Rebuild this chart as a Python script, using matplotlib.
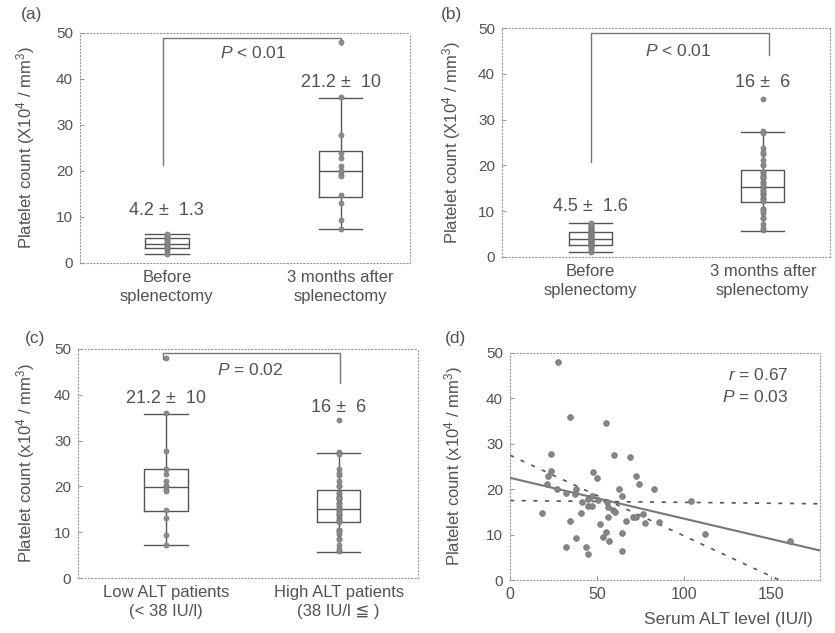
import matplotlib
matplotlib.use("Agg")
import matplotlib.pyplot as plt
import numpy as np

plt.rcParams["font.family"] = ["Liberation Sans", "DejaVu Sans"]
plt.rcParams["mathtext.fontset"] = "custom"
plt.rcParams["mathtext.rm"] = "Liberation Sans"
plt.rcParams["mathtext.it"] = "Liberation Sans:italic"

GREY = "#525252"
PT = "#8a8a8a"

# ---- data ----
# panel (d): serum ALT (IU/l) vs platelet count 3 months after splenectomy
alt_level = [27.8, 34.5, 55, 23.4, 60, 69, 23.4, 22, 47.7, 50, 72.2, 73.8, 21,
             82.4, 62.8, 37.8, 27, 32, 37.4, 64.2, 47.3, 45, 50.4, 41.2, 45,
             47.3, 55.6, 56.5, 59.4, 60.3, 18.2, 40.8, 56.1, 66.5, 70.5, 72.4,
             76.6, 77.6, 85.6, 34.5, 51.9, 55, 64.2, 37.8, 53.3, 56.9, 32,
             43.7, 44.6, 64.2, 104, 112, 160.5]
platelet_3m = [48.0, 36.0, 34.6, 27.8, 27.5, 27.0, 23.9, 22.8, 23.7, 22.5, 22.9,
               21.1, 21.1, 20.1, 20.1, 20.0, 20.0, 19.2, 18.9, 18.6, 18.5, 17.8,
               17.6, 17.2, 16.4, 16.3, 17.2, 16.0, 15.4, 15.0, 14.8, 14.7, 13.8,
               13.0, 13.8, 13.9, 14.5, 12.6, 12.7, 13.1, 12.3, 10.5, 10.4, 9.3,
               9.5, 8.5, 7.3, 7.3, 5.8, 6.4, 17.4, 10.1, 8.5]
alt_cut = 38

# regression line and the two dashed lines (intercept, slope)
fit_line = (22.5, -0.0899)
band_lines = [(27.5, -0.178), (17.5, -0.004)]

# before splenectomy platelet counts
before_a = [2.0, 2.6, 3.0, 3.2, 3.5, 3.8, 4.1, 4.3, 4.6, 5.0, 5.3, 5.6, 5.9, 6.2]
before_b = [1.1, 1.5, 1.8, 2.1, 2.3, 2.5, 2.7, 2.8, 3.0, 3.1, 3.3, 3.4, 3.5,
            3.6, 3.8, 3.9, 4.0, 4.0, 4.1, 4.3, 4.4, 4.5, 4.6, 4.8, 4.9, 5.1,
            5.2, 5.4, 5.5, 5.6, 5.8, 6.0, 6.2, 6.4, 6.6, 6.8, 7.0, 7.2, 7.4]

# box statistics: whislo, q1, med, q3, whishi
box_a = [(2.0, 3.2, 4.2, 5.4, 6.2), (7.3, 14.4, 19.9, 24.4, 35.8)]
box_b = [(1.1, 2.7, 4.0, 5.5, 7.4), (5.7, 12.1, 15.2, 18.9, 27.3)]
box_c = [(7.1, 14.6, 19.9, 23.7, 35.7), (5.6, 12.2, 15.1, 19.3, 27.3)]

labels_ab = ["Before\nsplenectomy", "3 months after\nsplenectomy"]
labels_c = ["Low ALT patients\n(< 38 IU/l)", "High ALT patients\n(38 IU/l \u2266 )"]
means_a = ["4.2 \u00b1  1.3", "21.2 \u00b1  10"]
means_b = ["4.5 \u00b1  1.6", "16 \u00b1  6"]
means_c = ["21.2 \u00b1  10", "16 \u00b1  6"]

alt_level = np.array(alt_level)
platelet_3m = np.array(platelet_3m)
low_alt = platelet_3m[alt_level < alt_cut]
high_alt = platelet_3m[alt_level >= alt_cut]


def px_axes(fig, l, t, r, b):
    W, H = 835, 633
    return fig.add_axes([l / W, 1 - b / H, (r - l) / W, (b - t) / H])


def style(ax, ylab):
    for s in ax.spines.values():
        s.set_linestyle((0, (1, 2)))
        s.set_color("#9a9a9a")
        s.set_linewidth(0.8)
    ax.set_ylim(0, 50)
    ax.set_yticks([0, 10, 20, 30, 40, 50])
    ax.tick_params(axis="y", direction="in", length=3, color="#999999",
                   labelsize=11, labelcolor=GREY, pad=5)
    ax.set_ylabel(ylab, fontsize=12, color=GREY)


def box_panel(ax, boxes, strips, xlabels, means, mean_y, xlim, ylab):
    stats = []
    for lo, q1, med, q3, hi in boxes:
        stats.append(dict(whislo=lo, q1=q1, med=med, q3=q3, whishi=hi, fliers=[]))
    lp = dict(color="#555555", linewidth=1.0)
    ax.bxp(stats, positions=[1, 2], widths=0.25, capwidths=0.25,
           boxprops=lp, whiskerprops=lp, capprops=lp, medianprops=lp,
           showfliers=False, manage_ticks=False)
    for i, vals in enumerate(strips):
        ax.scatter(np.full(len(vals), i + 1), vals, s=14, color=PT,
                   edgecolor="#777777", linewidth=0.4, zorder=3)
    for i, (txt, y) in enumerate(zip(means, mean_y)):
        ax.text(i + 1, y, txt, ha="center", va="center", fontsize=13, color=GREY)
    ax.set_xlim(*xlim)
    ax.set_xticks([1, 2])
    ax.set_xticklabels(xlabels, fontsize=12, color=GREY, linespacing=1.35)
    ax.tick_params(axis="x", length=0, pad=5)
    style(ax, ylab)


def bracket(ax, x0, y0, x1, y1, ytop, txt, tx, ty):
    ax.plot([x0, x0, x1, x1], [y0, ytop, ytop, y1], color="#777777", lw=1.0)
    ax.text(tx, ty, txt, ha="center", va="center", fontsize=12.5, color=GREY)


fig = plt.figure(figsize=(8.35, 6.33), dpi=100)

ylab_X = "Platelet count (X10$^4$ / mm$^3$)"
ylab_x = "Platelet count (x10$^4$ / mm$^3$)"

# (a)
ax = px_axes(fig, 80, 33, 410, 263)
box_panel(ax, box_a, [before_a, low_alt], labels_ab, means_a, [11.4, 39.2],
          (0.5, 2.4), ylab_X)
bracket(ax, 0.98, 21.3, 2.005, 47.4, 48.9, "$P$ < 0.01", 1.5, 45.6)
ax.yaxis.set_label_coords(-0.13, 0.5)

# (b)
ax = px_axes(fig, 502, 28, 830, 257)
box_panel(ax, box_b, [before_b, high_alt], labels_ab, means_b, [11.0, 38.0],
          (0.485, 2.39), ylab_X)
bracket(ax, 1.0, 20.7, 2.035, 44.0, 48.9, "$P$ < 0.01", 1.506, 44.9)
ax.yaxis.set_label_coords(-0.12, 0.5)

# (c)
ax = px_axes(fig, 78, 349, 418, 578)
box_panel(ax, box_c, [low_alt, high_alt], labels_c, means_c, [39.1, 37.2],
          (0.49, 2.46), ylab_x)
bracket(ax, 0.98, 47.8, 2.007, 42.6, 49.1, "$P$ = 0.02", 1.49, 45.5)
ax.yaxis.set_label_coords(-0.12, 0.5)

# (d)
ax = px_axes(fig, 510, 353, 820, 580)
ax.scatter(alt_level, platelet_3m, s=18, color="#858585", edgecolor="#707070",
           linewidth=0.4, zorder=3)
xs = np.array([0, 178])
ax.plot(xs, fit_line[0] + fit_line[1] * xs, color="#777777", lw=1.5)
for b0, b1 in band_lines:
    ax.plot(xs, b0 + b1 * xs, color="#555555", lw=1.2, ls=(0, (2.5, 4.5)))
ax.set_xlim(0, 178)
ax.set_xticks([0, 50, 100, 150])
ax.tick_params(axis="x", direction="in", length=3, color="#999999",
               labelsize=11.5, labelcolor=GREY, pad=5)
style(ax, ylab_x)
ax.set_xlabel("Serum ALT level (IU/l)", fontsize=12.5, color=GREY)
ax.xaxis.label.set_horizontalalignment("right")
ax.xaxis.set_label_coords(0.975, -0.14)
ax.yaxis.set_label_coords(-0.145, 0.5)
ax.text(160, 45.2, "$r$ = 0.67", ha="right", va="center", fontsize=12.5, color=GREY)
ax.text(160, 40.4, "$P$ = 0.03", ha="right", va="center", fontsize=12.5, color=GREY)

for lab, x, y in [("(a)", 32, 15), ("(b)", 452, 15), ("(c)", 35, 338), ("(d)", 456, 338)]:
    fig.text(x / 835, 1 - y / 633, lab, ha="center", va="center", fontsize=12.5,
             color=GREY)

fig.savefig("out.png", dpi=100)
